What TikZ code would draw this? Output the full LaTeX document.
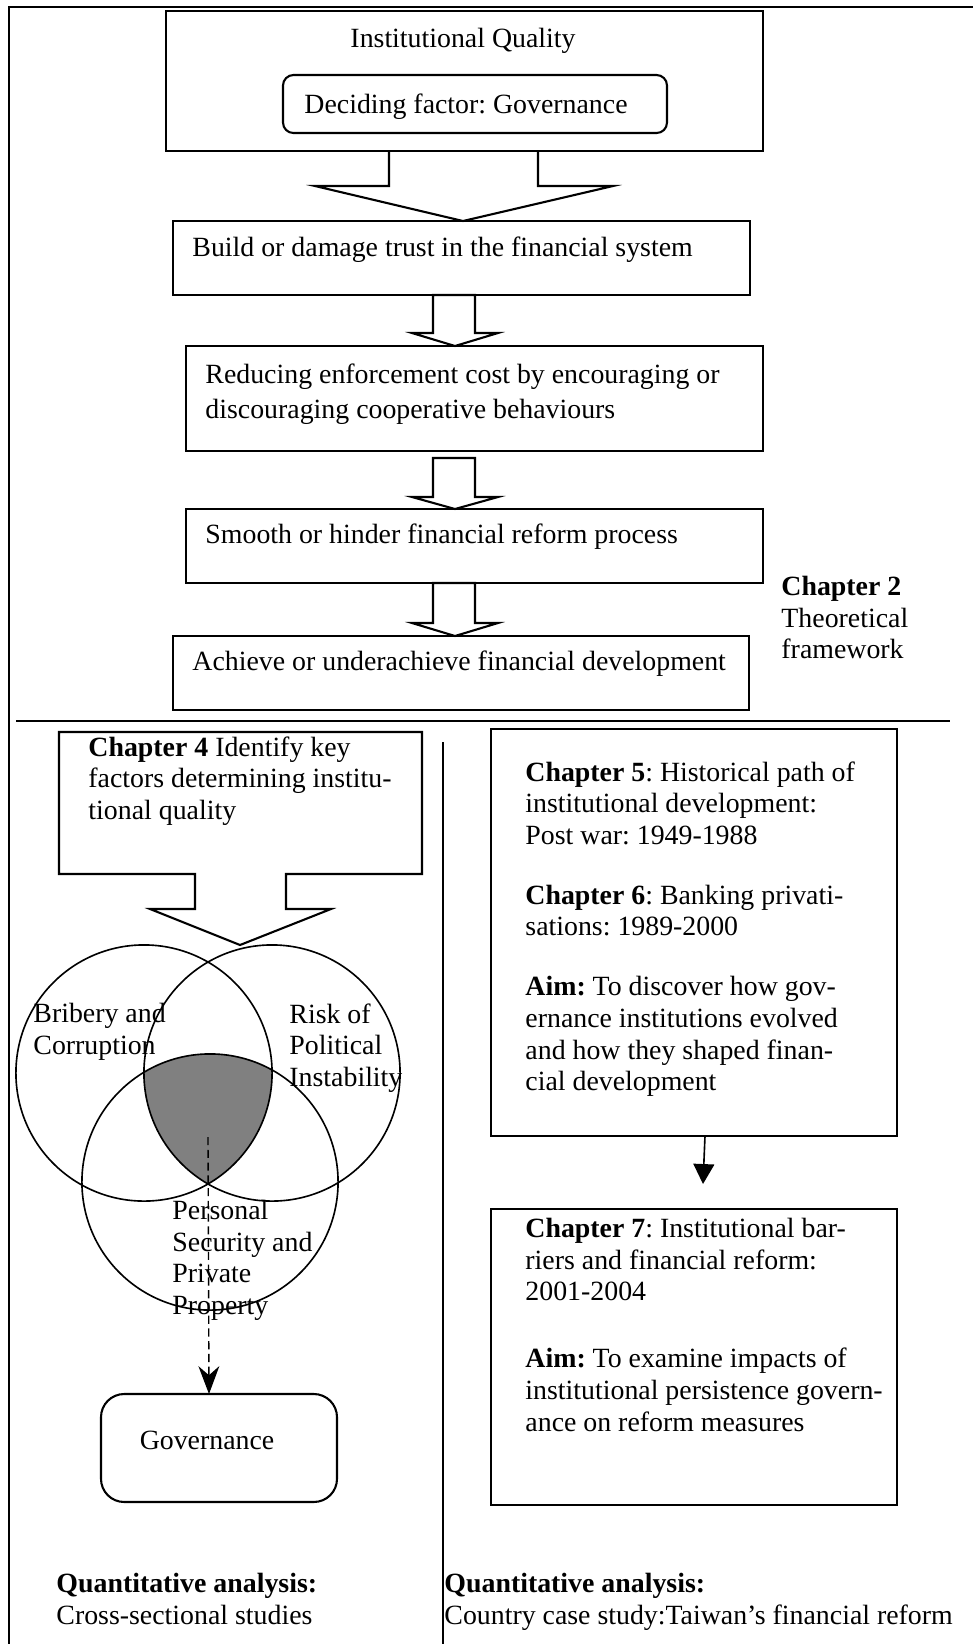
\documentclass[tikz,border=0pt]{standalone}
\usepackage{fontspec}
\setmainfont{Liberation Serif}
\usetikzlibrary{arrows.meta}
\frenchspacing

\begin{document}
\begin{tikzpicture}[x=0.431pt, y=-0.431pt,
	box/.style={draw, line width=0.9pt},
	frame/.style={line width=1.2pt},
	venn/.style={draw, line width=0.7pt},
	txt/.style={inner sep=0pt, anchor=base west, align=left, font=\fontsize{12pt}{13.6pt}\selectfont},
	para/.style={txt, anchor=north west},
	dashedarrow/.style={line width=0.6pt, dash pattern=on 3.5pt off 2pt, -{Stealth[length=12pt, width=9pt]}},
	thinarrow/.style={line width=0.7pt, -{Triangle[length=8.6pt, width=9pt]}}]
	\useasboundingbox (0,0) rectangle (973,1644);
%	\draw [help lines] (0,0) grid [step=100] (973,1644);  % help lines

	% frame
	\draw [frame] (9,1644) -- (9,7) -- (973,7);
	\draw [frame] (16,721) -- (950,721);  % upper / lower half
	\draw [frame] (443,742) -- (443,1644);  % left / right half

	% theoretical framework
	\draw [box] (166,11) rectangle (763,151);  % institutional quality
	\node [txt, anchor=base] (quality) at (463,47) {Institutional Quality};
	\draw [box, rounded corners=4.5pt] (283,75) rectangle (667,133);
	\node [txt] (factor) at (304,113) {Deciding factor: Governance};
	\draw [box] (389,151) -- (389,186) -- (315,186) -- (463,221) -- (613,186) -- (538,186) -- (538,151);

	\draw [box] (173,221) rectangle (750,295);  % trust
	\node [txt] (trust) at (192,256) {Build or damage trust in the financial system};
	\draw [box] (433,295) -- (433,333) -- (412,333) -- (455,346) -- (498,333) -- (475,333) -- (475,295) -- cycle;

	\draw [box] (186,346) rectangle (763,451);  % enforcement cost
	\node [para, font=\fontsize{12pt}{15.1pt}\selectfont] (cost) at (205,363) {Reducing enforcement cost by encouraging or\\discouraging cooperative behaviours};
	\draw [box] (433,458) -- (433,497) -- (412,497) -- (455,509) -- (498,497) -- (475,497) -- (475,458) -- cycle;

	\draw [box] (186,509) rectangle (763,583);  % reform process
	\node [txt] (reform) at (205,543) {Smooth or hinder financial reform process};
	\draw [box] (433,583) -- (433,623) -- (412,623) -- (455,636) -- (498,623) -- (475,623) -- (475,583) -- cycle;

	\draw [box] (173,636) rectangle (749,710);  % financial development
	\node [txt] (develop) at (192,670) {Achieve or underachieve financial development};

	\node [para] (ch2) at (781,576) {\textbf{Chapter 2}\\Theoretical\\framework};

	% chapter 4
	\draw [box] (59,732) -- (422,732) -- (422,874) -- (286,874) -- (286,909) -- (331,909) -- (240,945)
		-- (150,909) -- (195,909) -- (195,874) -- (59,874) -- cycle;
	\node [para] (ch4) at (88,736) {\textbf{Chapter 4} Identify key\\factors determining institu-\\tional quality};

	% venn diagram
	\coordinate (bribery) at (144,1073);
	\coordinate (risk) at (272,1073);
	\coordinate (security) at (210,1182);
	\begin{scope}
		\clip (bribery) circle (55.2pt);
		\clip (risk) circle (55.2pt);
		\fill [gray] (security) circle (55.2pt);
	\end{scope}
	\draw [venn] (bribery) circle (55.2pt);
	\draw [venn] (risk) circle (55.2pt);
	\draw [venn] (security) circle (55.2pt);
	\node [para] (bribery text) at (33,1003) {Bribery and\\Corruption};
	\node [para] (risk text) at (289,1003) {Risk of\\Political\\Instability};
	\node [para] (security text) at (172,1200) {Personal\\Security and\\Private\\Property};

	% governance
	\draw [box, rounded corners=10pt] (101,1394) rectangle (337,1502);
	\node [txt, anchor=base] (gov) at (207,1449) {Governance};
	\coordinate (core) at (208,1137);
	\coordinate (gov top) at (209,1394);
	\draw [dashedarrow] (core) -- (gov top);

	% chapters 5, 6 and 7
	\draw [box] (491,729) rectangle (897,1136);
	\node [para] (ch5) at (525,761) {\textbf{Chapter 5}: Historical path of\\institutional development:\\Post war: 1949-1988\\[12.3pt]
		\textbf{Chapter 6}: Banking privati-\\sations: 1989-2000\\[12.3pt]
		\textbf{Aim:} To discover how gov-\\ernance institutions evolved\\and how they shaped finan-\\cial development};
	\coordinate (ch5 foot) at (705,1136);
	\coordinate (ch7 head) at (703,1184);
	\draw [thinarrow] (ch5 foot) -- (ch7 head);

	\draw [box] (491,1209) rectangle (897,1505);
	\node [para] (ch7) at (525,1218) {\textbf{Chapter 7}: Institutional bar-\\riers and financial reform:\\2001-2004\\[15.3pt]
		\textbf{Aim:} To examine impacts of\\institutional persistence govern-\\ance on reform measures};

	% methods
	\node [para] (cross) at (56,1573) {\textbf{Quantitative analysis:}\\Cross-sectional studies};
	\node [para] (case) at (444,1573) {\textbf{Quantitative analysis:}\\Country case study:Taiwan’s financial reform};
\end{tikzpicture}
\end{document}
